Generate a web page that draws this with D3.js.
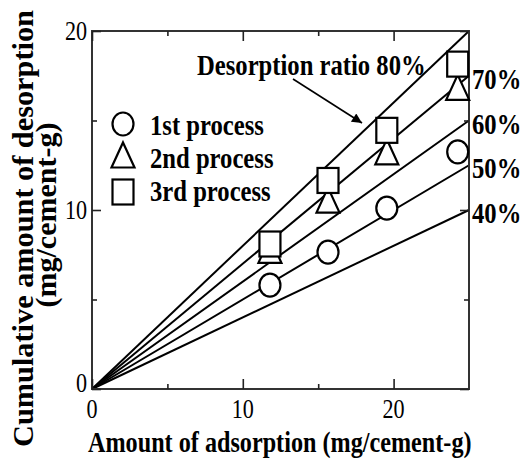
<!DOCTYPE html>
<html>
<head>
<meta charset="utf-8">
<script src="https://cdn.jsdelivr.net/npm/d3@7"></script>
<style>
  html, body { margin: 0; padding: 0; background: #fff; }
  svg { display: block; }
  text { font-family: "Liberation Serif", "Times New Roman", serif; fill: #000; }
</style>
</head>
<body>
<svg id="chart" width="523" height="464"></svg>
<script>
// Adsorption amounts (mg/cement-g) shared by every process
const adsorption = [11.8, 15.65, 19.55, 24.25];
// Cumulative desorption (mg/cement-g) per process
const process1 = [5.8, 7.65, 10.1, 13.25];
const process2 = [7.75, 10.55, 13.25, 16.85];
const process3 = [8.1, 11.65, 14.45, 18.15];
// Reference lines: desorption = ratio * adsorption
const ratios = [0.4, 0.5, 0.6, 0.7, 0.8];
const ratioLabels = ["40%", "50%", "60%", "70%"];
const ratioCaption = "Desorption ratio 80%";
const legendLabels = ["1st process", "2nd process", "3rd process"];
const xTickValues = [0, 10, 20];
const yTickValues = [0, 10, 20];
const minorTickValues = [5, 15];
const xDomain = [0, 25];
const yDomain = [0, 20];

const svg = d3.select("#chart");
const x = d3.scaleLinear().domain(xDomain).range([92, 469]);
const y = d3.scaleLinear().domain(yDomain).range([389, 31]);

// Text helper: condensed Times-style lettering
function label(parent, str, px, py, o = {}) {
  const sx = o.sx ?? 0.82;
  return parent.append("text")
    .attr("transform", `translate(${px},${py}) scale(${sx},1)`)
    .attr("text-anchor", o.anchor || "start")
    .attr("font-size", o.size || 27)
    .attr("font-weight", o.bold ? "bold" : "normal")
    .text(str);
}

// Ratio lines from the origin to the right edge
const xMax = xDomain[1];
svg.append("g").selectAll("line").data(ratios).join("line")
  .attr("x1", x(0)).attr("y1", y(0))
  .attr("x2", x(xMax)).attr("y2", d => y(d * xMax))
  .attr("stroke", "#000").attr("stroke-width", 2);

// Frame with inward ticks on all four sides
const frame = svg.append("g");
frame.append("rect")
  .attr("x", x(0)).attr("y", y(yDomain[1]))
  .attr("width", x(xDomain[1]) - x(0)).attr("height", y(0) - y(yDomain[1]))
  .attr("fill", "none").attr("stroke", "#333").attr("stroke-width", 2);

const axB = d3.axisBottom(x).tickValues(xTickValues).tickSizeInner(-10).tickSizeOuter(0).tickFormat("");
const axT = d3.axisTop(x).tickValues(xTickValues).tickSizeInner(-10).tickSizeOuter(0).tickFormat("");
const axL = d3.axisLeft(y).tickValues(yTickValues).tickSizeInner(-9).tickSizeOuter(0).tickFormat("");
const axR = d3.axisRight(y).tickValues(yTickValues).tickSizeInner(-9).tickSizeOuter(0).tickFormat("");
const mB = d3.axisBottom(x).tickValues(minorTickValues).tickSizeInner(-5).tickSizeOuter(0).tickFormat("");
const mT = d3.axisTop(x).tickValues(minorTickValues).tickSizeInner(-5).tickSizeOuter(0).tickFormat("");
const mL = d3.axisLeft(y).tickValues(minorTickValues).tickSizeInner(-5).tickSizeOuter(0).tickFormat("");
const mR = d3.axisRight(y).tickValues(minorTickValues).tickSizeInner(-5).tickSizeOuter(0).tickFormat("");
[[axB, mB, `translate(0,${y(0)})`], [axT, mT, `translate(0,${y(yDomain[1])})`],
 [axL, mL, `translate(${x(0)},0)`], [axR, mR, `translate(${x(xDomain[1])},0)`]].forEach(([a, m, t]) => {
  [a, m].forEach(ax => {
    const g = frame.append("g").attr("transform", t).call(ax);
    g.select(".domain").remove();
    g.selectAll(".tick line").attr("stroke", "#222").attr("stroke-width", 1.6);
  });
});

// Tick labels
const tickG = svg.append("g");
xTickValues.forEach(v => label(tickG, String(v), x(v), 418, { anchor: "middle" }));
yTickValues.forEach(v => label(tickG, String(v), 87, v === 0 ? y(v) + 3 : y(v) + 9, { anchor: "end" }));

// Axis titles
label(svg, "Amount of adsorption (mg/cement-g)", 88, 452, { bold: true, size: 29.5, sx: 0.82 });
const yTitle = svg.append("g");
yTitle.append("text")
  .attr("transform", `translate(33,228.5) rotate(-90)`)
  .attr("text-anchor", "middle").attr("font-size", 30.3).attr("font-weight", "bold")
  .text("Cumulative amount of desorption");
yTitle.append("text")
  .attr("transform", `translate(56,215) rotate(-90)`)
  .attr("text-anchor", "middle").attr("font-size", 30).attr("font-weight", "bold")
  .text("(mg/cement-g)");

// Ratio labels at the right edge
const rl = svg.append("g");
ratioLabels.forEach((t, i) => {
  label(rl, t, 472, y(ratios[i] * xMax) + 13, { bold: true, size: 29, sx: 0.85 });
});
label(rl, ratioCaption, 197, 75, { bold: true, size: 29, sx: 0.85 });

// Arrow pointing to the 80% line
svg.append("defs").append("marker")
  .attr("id", "arrowhead").attr("viewBox", "0 0 10 10")
  .attr("refX", 10).attr("refY", 5)
  .attr("markerWidth", 15).attr("markerHeight", 10)
  .attr("markerUnits", "userSpaceOnUse")
  .attr("orient", "auto")
  .append("path").attr("d", "M0,0 L10,5 L0,10 Z").attr("fill", "#000");
svg.append("line")
  .attr("x1", 293).attr("y1", 79)
  .attr("x2", 362).attr("y2", 123)
  .attr("stroke", "#000").attr("stroke-width", 1.6)
  .attr("marker-end", "url(#arrowhead)");

// Marker shapes
const RX = 10.5, RY = 11.5;      // circle (slightly tall)
const TW = 11.5, TH = 12.5;      // triangle half-width / half-height
const SW = 10.5, SH = 12.5;      // square half-width / half-height
function circle(g, cx, cy) {
  g.append("ellipse").attr("cx", cx).attr("cy", cy).attr("rx", RX).attr("ry", RY)
    .attr("fill", "#fff").attr("stroke", "#000").attr("stroke-width", 2.2);
}
function triangle(g, cx, cy) {
  g.append("path")
    .attr("d", `M${cx},${cy - TH} L${cx + TW},${cy + TH} L${cx - TW},${cy + TH} Z`)
    .attr("fill", "#fff").attr("stroke", "#000").attr("stroke-width", 2.2).attr("stroke-linejoin", "miter");
}
function square(g, cx, cy) {
  g.append("rect").attr("x", cx - SW).attr("y", cy - SH).attr("width", 2 * SW).attr("height", 2 * SH)
    .attr("fill", "#fff").attr("stroke", "#000").attr("stroke-width", 2.2);
}

const pts = svg.append("g");
adsorption.forEach((a, i) => circle(pts, x(a), y(process1[i])));
adsorption.forEach((a, i) => triangle(pts, x(a), y(process2[i])));
adsorption.forEach((a, i) => square(pts, x(a), y(process3[i])));

// Legend
const lg = svg.append("g");
const shapes = [circle, triangle, square];
const legendY = [124, 155, 192];
const legendBase = [135, 168, 201];
legendLabels.forEach((t, i) => {
  shapes[i](lg, 123, legendY[i]);
  label(lg, t, 150, legendBase[i], { bold: true, size: 29, sx: 0.85 });
});
</script>
</body>
</html>
